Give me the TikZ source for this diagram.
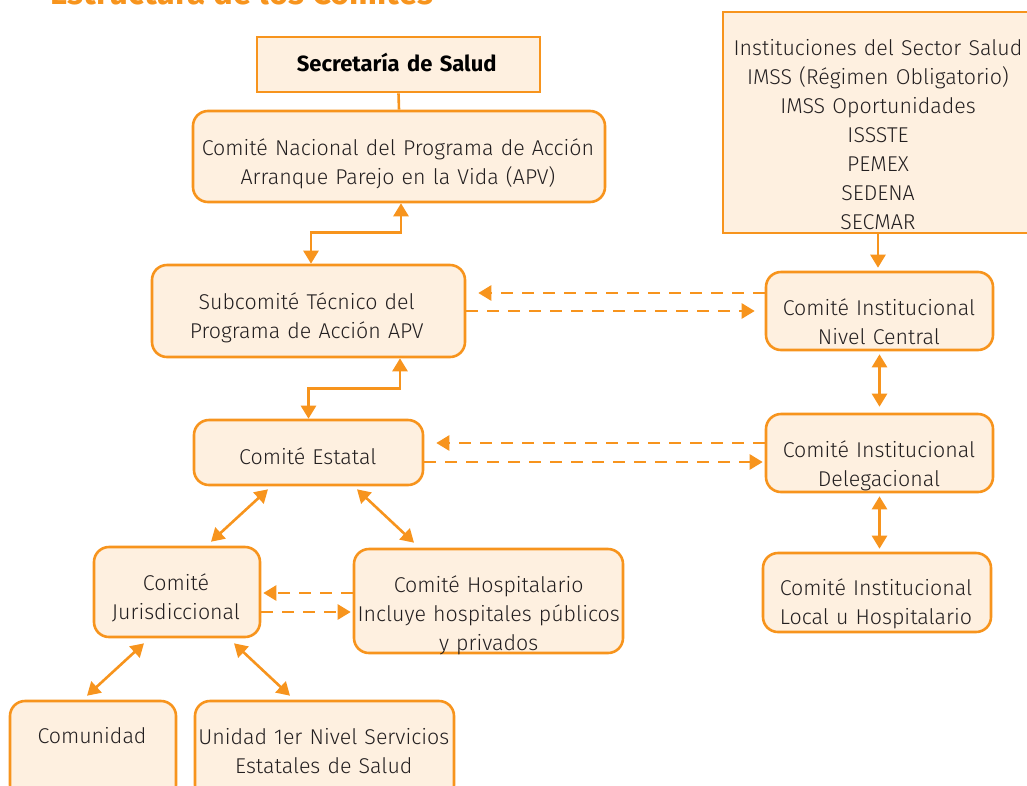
\documentclass[tikz,border=0pt]{standalone}
\usepackage{fontspec}
\setmainfont{Fira Sans}[UprightFont={* Light}, BoldFont={* Bold}]
\usetikzlibrary{arrows.meta,calc}
\definecolor{apvorange}{HTML}{F7941D}
\definecolor{apvfill}{HTML}{FEF0E0}
\definecolor{apvtext}{HTML}{231F20}
\tikzset{
  box/.style={draw=apvorange, line width=2.6pt, fill=apvfill, rounded corners=15pt, inner sep=0pt},
  sqbox/.style={box, rounded corners=0pt},
  txt/.style={font=\fontsize{21.4}{29}\selectfont, text=apvtext, align=center, inner sep=0pt, anchor=base, text width=440pt},
  link/.style={draw=apvorange, line width=2.6pt},
  biarrow/.style={link, {Triangle[length=13pt,width=15pt]}-{Triangle[length=13pt,width=15pt]}},
  onearrow/.style={link, -{Triangle[length=13pt,width=15pt]}},
  dasharrow/.style={onearrow, dash pattern=on 12pt off 9pt}
}
\begin{document}
\begin{tikzpicture}[x=1pt,y=-1pt]
\useasboundingbox (0,0) rectangle (1027,785);
\clip (0,0) rectangle (1027,785);
% title (cut off at the top)
\node[font=\fontsize{33}{33}\selectfont\bfseries, text=apvorange, anchor=base west, inner sep=0pt] (titulo) at (50,4.5) {Estructura de los Comités};
% boxes
\node[sqbox, minimum width=283pt, minimum height=55pt] (secretaria) at (398.5,64.5) {};
\node[box, minimum width=412pt, minimum height=91pt] (nacional) at (399,156.5) {};
\node[box, minimum width=313pt, minimum height=92pt] (subcomite) at (308.5,311) {};
\node[box, minimum width=229pt, minimum height=65pt] (estatal) at (308.5,452.5) {};
\node[sqbox, minimum width=310pt, minimum height=221pt] (instituciones) at (878,122.5) {};
\node[box, minimum width=227pt, minimum height=78pt] (central) at (879.5,311) {};
\node[box, minimum width=227pt, minimum height=78pt] (delegacional) at (879.5,453) {};
\node[box, minimum width=228pt, minimum height=79pt] (local) at (877,592.5) {};
\node[box, minimum width=166pt, minimum height=90pt] (jurisdiccional) at (177,592) {};
\node[box, minimum width=269pt, minimum height=104pt] (hospitalario) at (488.5,601) {};
\node[box, minimum width=166pt, minimum height=99pt] (comunidad) at (93,750.5) {};
\node[box, minimum width=259pt, minimum height=99pt] (unidad) at (324.5,750.5) {};
% texts
\node[txt, font=\fontsize{22}{29}\selectfont\bfseries, text=black] (secretariat) at (396.7,71) {Secretaría de Salud};
\node[txt] (nacionalt) at (398,155) {Comité Nacional del Programa de Acción\\Arranque Parejo en la Vida (APV)};
\node[txt] (subcomitet) at (306.7,309) {Subcomité Técnico del\\Programa de Acción APV};
\node[txt] (estatalt) at (307.8,464) {Comité Estatal};
\node[txt] (institucionest) at (878,55) {Instituciones del Sector Salud\\IMSS (Régimen Obligatorio)\\IMSS Oportunidades\\ISSSTE\\PEMEX\\SEDENA\\SECMAR};
\node[txt] (centralt) at (879,315) {Comité Institucional\\Nivel Central};
\node[txt] (delegacionalt) at (879,457) {Comité Institucional\\Delegacional};
\node[txt] (localt) at (876,595) {Comité Institucional\\Local u Hospitalario};
\node[txt] (jurisdiccionalt) at (176,590) {Comité\\Jurisdiccional};
\node[txt] (hospitalariot) at (488.7,592) {Comité Hospitalario\\Incluye hospitales públicos\\y privados};
\node[txt] (comunidadt) at (92,743) {Comunidad};
\node[txt] (unidadt) at (323.8,744) {Unidad 1er Nivel Servicios\\Estatales de Salud};
% connectors
\draw[link] (secretaria.south) -- (nacional.north);
\draw[biarrow] ($(subcomite.north)+(2.5,0)$) -- ++(0,-31) -| ($(nacional.south)+(2,0)$);
\draw[biarrow] (estatal.north) -- ++(0,-30) -| ($(subcomite.south)+(91.5,0)$);
\draw[dasharrow, shorten >=12pt] ($(central.west)+(0,-18)$) -- ($(subcomite.east)+(0,-18)$);
\draw[dasharrow, shorten >=10pt] (subcomite.east) -- (central.west);
\draw[dasharrow, shorten >=12pt] ($(delegacional.west)+(0,-10)$) -- ($(estatal.east)+(0,-9.5)$);
\draw[dasharrow, shorten >=2pt] ($(estatal.east)+(0,9.5)$) -- ($(delegacional.west)+(0,9)$);
\draw[dasharrow, shorten >=2pt] ($(hospitalario.west)+(0,-8)$) -- ($(jurisdiccional.east)+(0,1)$);
\draw[dasharrow, shorten >=2pt] ($(jurisdiccional.east)+(0,20)$) -- ($(hospitalario.west)+(0,11)$);
\draw[onearrow, shorten >=3pt] (instituciones.south) -- (instituciones.south |- central.north);
\draw[biarrow, shorten <=3pt, shorten >=6pt] (central.south) -- (delegacional.north);
\draw[biarrow, shorten <=3pt, shorten >=3pt] (delegacional.south) -- (delegacional.south |- local.north);
\draw[biarrow] ($(estatal.south)+(-40.5,3)$) -- ($(jurisdiccional.north)+(34,-4)$);
\draw[biarrow] ($(estatal.south)+(48.5,3)$) -- ($(hospitalario.north)+(-74.5,-5)$);
\draw[biarrow] ($(jurisdiccional.south)+(-33,5)$) -- ($(comunidad.north)+(-6,-4)$);
\draw[biarrow] ($(jurisdiccional.south)+(57,5)$) -- ($(unidad.north)+(-34.5,-4)$);
\end{tikzpicture}
\end{document}
